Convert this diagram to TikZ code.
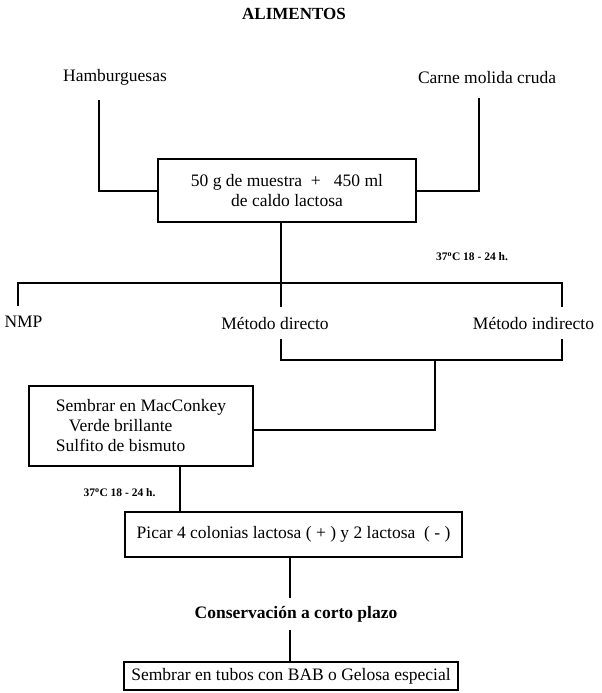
\documentclass[tikz,border=0pt]{standalone}
\usepackage{fontspec}
\setmainfont{Liberation Serif}
\begin{document}
\begin{tikzpicture}[x=1pt,y=-1pt,
  every node/.style={font=\fontsize{17.5}{20}\selectfont},
  lbl/.style={inner sep=0pt,minimum height=32pt},
  tall/.style={inner sep=0pt,minimum height=46pt},
  boxed/.style={draw,line width=1.8pt,inner sep=0pt,align=center},
  small/.style={font=\fontsize{11.5}{13}\selectfont\bfseries,inner sep=0pt},
  wire/.style={line width=2pt}]
\useasboundingbox (0,0) rectangle (602,693);

% heading and the two kinds of sample
\node[inner sep=0pt,font=\fontsize{17}{20}\selectfont\bfseries] (title) at (294,14) {ALIMENTOS};
\node[tall] (hamb) at (115,77) {Hamburguesas};
\node[tall,minimum height=40pt] (carne) at (487,78) {Carne molida cruda};

% enrichment
\node[boxed,minimum width=258pt,minimum height=63pt] (box1) at (287,190.5)
  {50 g de muestra \ + \ \ 450 ml\\de caldo lactosa};

% the three methods
\node[lbl] (nmp) at (23.5,322) {NMP};
\node[lbl] (mdir) at (275,323) {Método directo};
\node[lbl] (mind) at (533.5,323) {Método indirecto};
\node[small] (temp1) at (472,257) {37\textsuperscript{o}C 18 - 24 h.};

% plating
\node[boxed,align=left,minimum width=224pt,minimum height=80pt] (box2) at (141,426)
  {Sembrar en MacConkey\\\hspace*{13pt}Verde brillante\\Sulfito de bismuto};
\node[small] (temp2) at (119.5,493) {37\textsuperscript{o}C 18 - 24 h.};
\node[boxed,minimum width=337pt,minimum height=45pt] (box3) at (293.5,534.5)
  {Picar 4 colonias lactosa ( + ) y 2 lactosa \ ( - )};

% storage
\node[lbl,font=\fontsize{17.5}{20}\selectfont\bfseries] (cons) at (296,614) {Conservación a corto plazo};
\node[boxed,minimum width=334pt,minimum height=28pt] (box4) at (291,676)
  {Sembrar en tubos con BAB o Gelosa especial};

% junction points of the connectors
\coordinate (j1) at (281,283);
\coordinate (j2) at (435,360);
\coordinate (j3) at (180,490);
\coordinate (j4) at (290,614);

% connectors
\draw[wire] ([xshift=-16pt]hamb.south) |- (box1.west);
\draw[wire] ([xshift=-8pt]carne.south) |- (box1.east);
\draw[wire] (box1.south -| j1) -- (mdir.north -| j1);
\draw[wire] ([xshift=-5.5pt]nmp.north) |- (j1) -| ([xshift=28.5pt]mind.north);
\draw[wire] (mdir.south -| j1) |- (j2) -| ([xshift=28.5pt]mind.south);
\draw[wire] (j2) |- ([yshift=-4pt]box2.east);
\draw[wire] (box2.south -| j3) -- (box3.north -| j3);
\draw[wire] (box3.south -| j4) -- (cons.north -| j4);
\draw[wire] (cons.south -| j4) -- (box4.north -| j4);
\end{tikzpicture}
\end{document}
